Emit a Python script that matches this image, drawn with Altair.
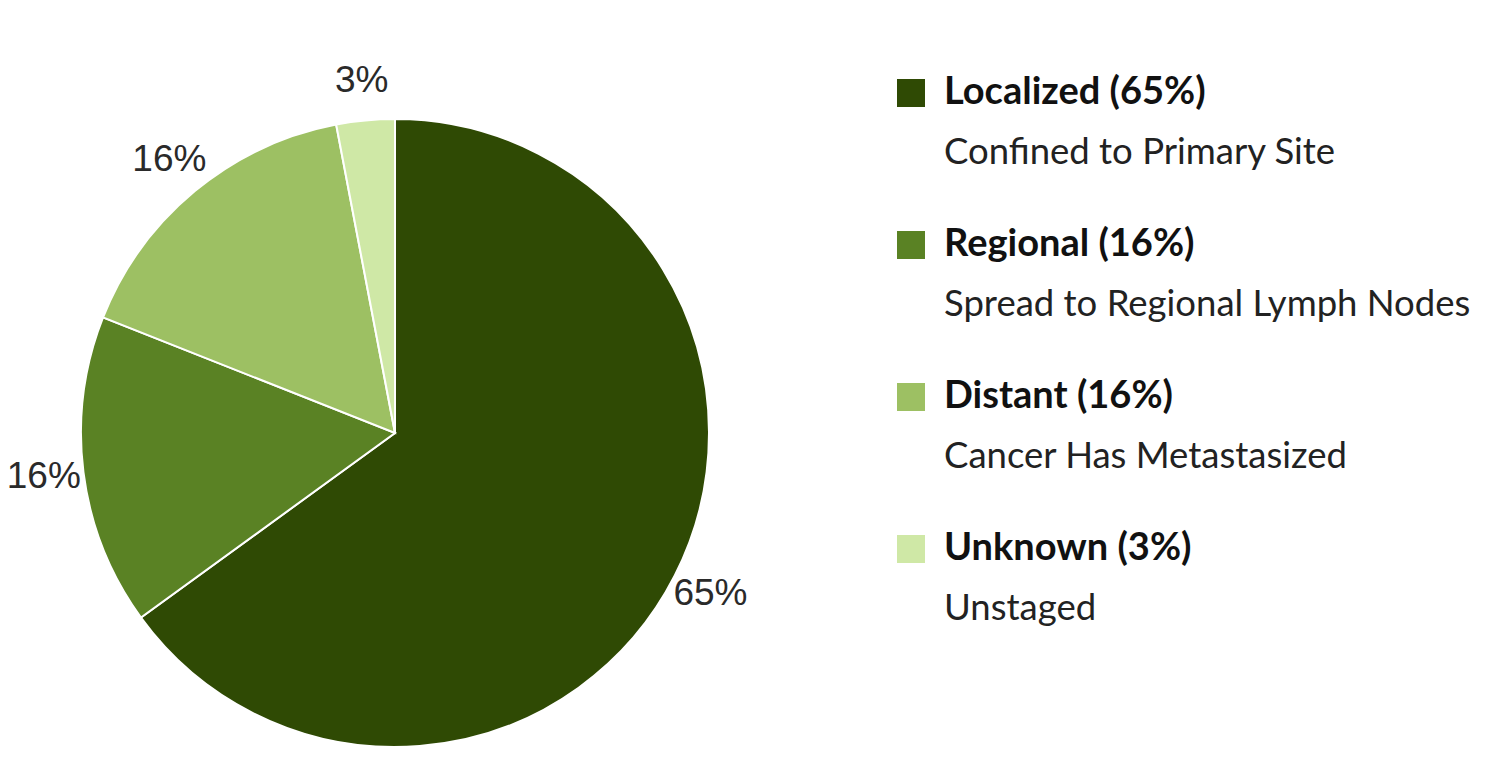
import altair as alt
import pandas as pd

categories = ["Localized", "Regional", "Distant", "Unknown"]
values = [65, 16, 16, 3]
descriptions = ["Confined to Primary Site", "Spread to Regional Lymph Nodes",
                "Cancer Has Metastasized", "Unstaged"]
colors = ["#2f4a04", "#5a8224", "#9dc063", "#cfe8a6"]

df = pd.DataFrame({
    "category": categories,
    "value": values,
    "order": list(range(len(categories))),
    "desc": descriptions,
})
df["pct"] = df["value"].astype(str) + "%"
df["title"] = df["category"] + " (" + df["pct"] + ")"

color = alt.Color("category:N", scale=alt.Scale(domain=categories, range=colors), legend=None)

base = alt.Chart(df).encode(
    theta=alt.Theta("value:Q", stack=True),
    order=alt.Order("order:Q"),
)

pie = base.mark_arc(outerRadius=314, stroke="white", strokeWidth=2).encode(
    color=color,
    x=alt.value(395), y=alt.value(433),
)

labels = base.mark_text(radius=354, font="Liberation Sans", fontSize=37, color="#2a2a2a").encode(
    text="pct:N",
    x=alt.value(395), y=alt.value(433),
)

ypos = alt.Y("category:N", scale=alt.Scale(type="point", domain=categories, range=[93, 549], padding=0), axis=None)

squares = alt.Chart(df).mark_square(size=784, opacity=1).encode(
    x=alt.value(911), y=ypos, color=color,
)
titles = alt.Chart(df).mark_text(align="left", baseline="middle", font="Lato", fontSize=38,
                                 fontWeight="bold", color="#111111").encode(
    x=alt.value(944), y=ypos, text="title:N",
)
descs = alt.Chart(df).mark_text(align="left", baseline="middle", font="Lato", fontSize=36.5,
                                color="#222222", dy=60).encode(
    x=alt.value(944), y=ypos, text="desc:N",
)

chart = alt.layer(pie, labels, squares, titles, descs).properties(
    width=1501, height=761,
    autosize=alt.AutoSizeParams(type="none"),
    padding=0,
).configure_view(stroke=None)

chart.save("out.html", embed_options={"renderer": "svg", "actions": False})
